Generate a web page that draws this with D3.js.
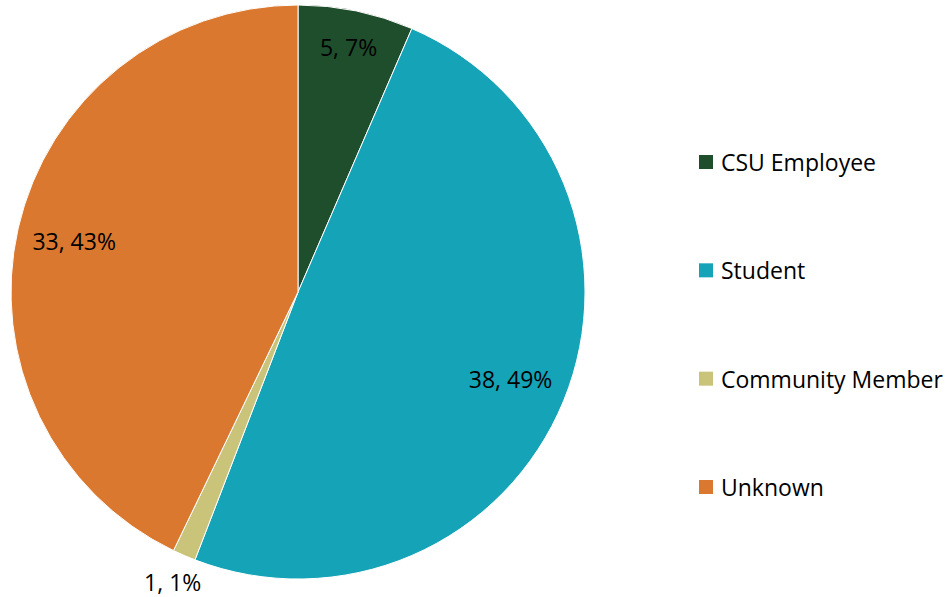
<!DOCTYPE html>
<html><head><meta charset="utf-8">
<script src="https://cdn.jsdelivr.net/npm/d3@7"></script>
<style>body{margin:0;background:#fff}svg{display:block}text{font-family:"Open Sans",sans-serif;fill:#000}</style>
</head><body><svg id="c" width="951" height="597"></svg>
<script>
const categories = ["CSU Employee","Student","Community Member","Unknown"];
const values = [5,38,1,33];
const percentLabels = ["7%","49%","1%","43%"];
const colors = ["#1F4E2D","#14A3B7","#C9C47A","#D9782E"];
const labelRadiusFactor = [0.87,0.8,1.1,0.8];

const svg = d3.select("#c");
const cx = 298, cy = 292, r = 287;
const g = svg.append("g").attr("transform",`translate(${cx},${cy})`);
const pie = d3.pie().sort(null).value(d=>d.v);
const data = pie(categories.map((c,i)=>({c,v:values[i],i})));
const arc = d3.arc().innerRadius(0).outerRadius(r);
g.selectAll("path").data(data).join("path")
  .attr("d",arc).attr("fill",d=>colors[d.data.i]).attr("stroke","#fff").attr("stroke-width",1);
g.selectAll("text.lbl").data(data).join("text").attr("class","lbl")
  .attr("transform",d=>{const rr=r*labelRadiusFactor[d.data.i];const a=(d.startAngle+d.endAngle)/2;return `translate(${Math.sin(a)*rr},${-Math.cos(a)*rr})`;})
  .attr("text-anchor","middle").attr("dominant-baseline","central").style("font-size","23px")
  .text(d=>`${d.data.v}, ${percentLabels[d.data.i]}`);

const y = d3.scalePoint().domain(categories).range([162,487]);
const lg = svg.append("g");
const items = lg.selectAll("g").data(categories).join("g").attr("transform",c=>`translate(699,${y(c)})`);
items.append("rect").attr("x",0).attr("y",-7).attr("width",14).attr("height",14).attr("fill",(c,i)=>colors[i]);
items.append("text").attr("x",22).attr("dominant-baseline","central").style("font-size","23px").text(c=>c);
</script></body></html>
